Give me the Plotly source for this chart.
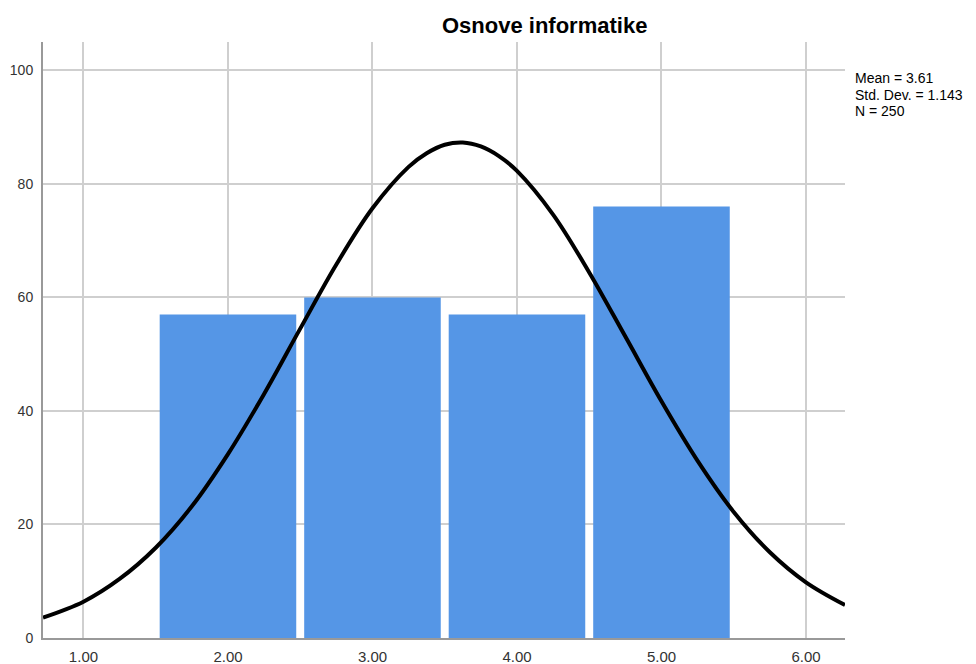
import plotly.graph_objects as go

# histogram bins (grade) and counts
grades = [2, 3, 4, 5]
counts = [57, 60, 57, 76]

# normal curve
curve_x = [0.72, 1.0, 1.25, 1.5, 1.75, 2.0, 2.25, 2.5, 2.75, 3.0, 3.25, 3.375, 3.5, 3.625,
           3.75, 3.875, 4.0, 4.25, 4.5, 4.75, 5.0, 5.25, 5.5, 5.75, 6.0, 6.27]
curve_y = [3.6, 6.4, 10.4, 15.9, 23.2, 32.4, 43.0, 54.5, 65.8, 75.7, 83.0, 85.4, 86.9, 87.3,
           86.6, 84.9, 82.3, 74.6, 64.4, 53.1, 41.7, 31.2, 22.2, 15.1, 9.8, 5.8]

stats_lines = ["Mean = 3.61", "Std. Dev. = 1.143", "N = 250"]

fig = go.Figure()

fig.add_trace(go.Bar(x=grades, y=counts, width=0.945,
                     marker=dict(color="#5596E6", line=dict(width=0)),
                     showlegend=False, hoverinfo="skip"))

fig.add_trace(go.Scatter(x=curve_x, y=curve_y, mode="lines",
                         line=dict(color="black", width=4, shape="spline", smoothing=1),
                         showlegend=False, hoverinfo="skip"))

ff = "Liberation Sans, Arial, sans-serif"

# the page body adds an 8px margin, so shrink the figure and margins by that much
fig.update_layout(
    width=968, height=656,
    margin=dict(l=35, r=131, t=34, b=26, autoexpand=False),
    paper_bgcolor="white", plot_bgcolor="white",
    font=dict(family=ff, size=15, color="#333"),
    xaxis=dict(range=[0.72, 6.27], tick0=1, dtick=1, tickformat=".2f",
               showgrid=True, gridcolor="#cfcfcf", gridwidth=2,
               showline=True, linecolor="#999", linewidth=2,
               zeroline=False, ticks="", ticklabelstandoff=4),
    yaxis=dict(range=[0, 105], tick0=0, dtick=20, tickfont=dict(size=14),
               showgrid=True, gridcolor="#cfcfcf", gridwidth=2,
               showline=True, linecolor="#999", linewidth=2,
               zeroline=False, ticks="", ticklabelstandoff=5),
)

fig.add_annotation(text="<b>Osnove informatike</b>", xref="paper", yref="paper",
                   x=0.625, y=1.0285, xanchor="center", yanchor="middle", showarrow=False,
                   font=dict(family=ff, size=22, color="black"))

ys = [0.9396, 0.911, 0.884]
for txt, yy in zip(stats_lines, ys):
    fig.add_annotation(text=txt, xref="paper", yref="paper", x=1.010, y=yy,
                       xanchor="left", yanchor="middle", showarrow=False,
                       font=dict(family=ff, size=14, color="black"))

fig.write_html("out.html")
